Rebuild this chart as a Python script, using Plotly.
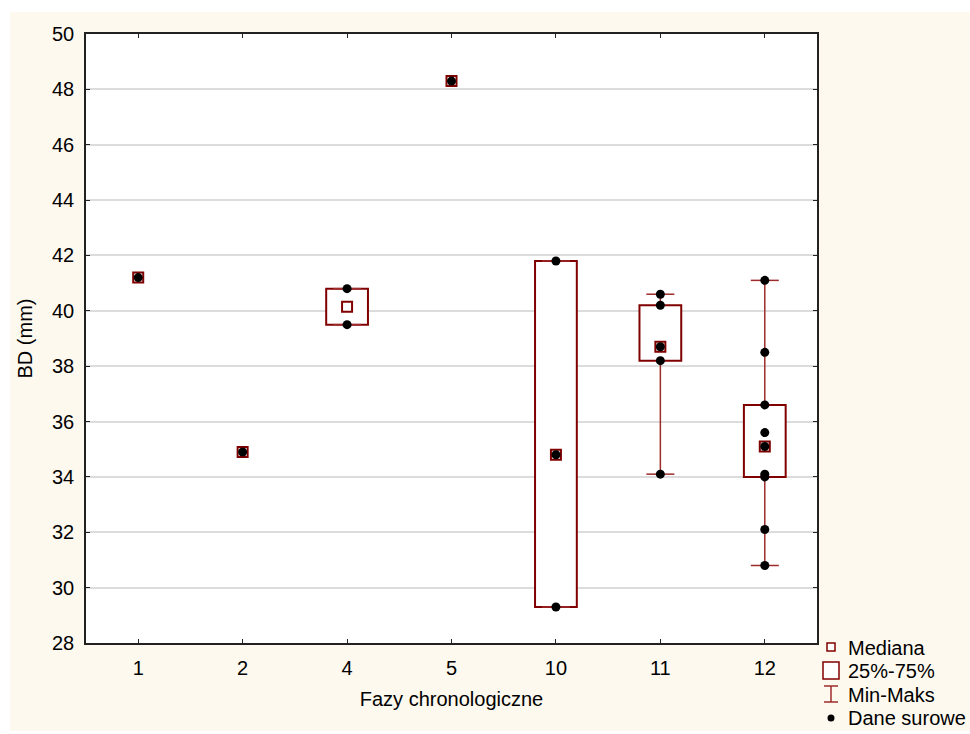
import plotly.graph_objects as go

# Chronological phases and BD measurements (mm)
phases = ["1", "2", "4", "5", "10", "11", "12"]
raw_values = [
    [41.2],
    [34.9],
    [40.8, 39.5],
    [48.3],
    [41.8, 34.8, 29.3],
    [40.6, 40.2, 38.7, 38.2, 34.1],
    [41.1, 38.5, 36.6, 35.6, 35.1, 34.1, 34.0, 32.1, 30.8],
]

# Summary statistics per phase
minimum = [41.2, 34.9, 39.5, 48.3, 29.3, 34.1, 30.8]
q1 = [41.2, 34.9, 39.5, 48.3, 29.3, 38.2, 34.0]
median = [41.2, 34.9, 40.15, 48.3, 34.8, 38.7, 35.1]
q3 = [41.2, 34.9, 40.8, 48.3, 41.8, 40.2, 36.6]
maximum = [41.2, 34.9, 40.8, 48.3, 41.8, 40.6, 41.1]

legend_labels = ["Mediana", "25%-75%", "Min-Maks", "Dane surowe"]

BOX_RED = "#800000"
WHISKER_RED = "#9e2b2b"
CREAM = "#fdf9ef"
FONT = "Liberation Sans, Arial, sans-serif"
FS = 20

W, H = 970, 734
L, R, T, B = 86, 153, 34, 91
PW, PH = W - L - R, H - T - B


def px_x(px):
    return (px - L) / PW


def px_y(py):
    return (H - B - py) / PH


fig = go.Figure()

# interquartile boxes (only where there is spread)
bx, bbase, bh = [], [], []
for p, lo, hi in zip(phases, q1, q3):
    if hi > lo:
        bx.append(p)
        bbase.append(lo)
        bh.append(hi - lo)
fig.add_trace(go.Bar(
    x=bx, y=bh, base=bbase, width=0.4,
    marker=dict(color="white", line=dict(color=BOX_RED, width=2)),
    hoverinfo="skip", showlegend=False,
))

# whiskers from box edges to min / max
wx, wy, cx, cy = [], [], [], []
for p, mn, a, b, mx in zip(phases, minimum, q1, q3, maximum):
    if mx > mn:
        wx += [p, p, None, p, p, None]
        wy += [a, mn, None, b, mx, None]
        cx += [p, p]
        cy += [mn, mx]
fig.add_trace(go.Scatter(
    x=wx, y=wy, mode="lines",
    line=dict(color=WHISKER_RED, width=1.5),
    hoverinfo="skip", showlegend=False,
))
fig.add_trace(go.Scatter(
    x=cx, y=cy, mode="markers",
    marker=dict(symbol="line-ew", size=20, line=dict(color=WHISKER_RED, width=1.5)),
    hoverinfo="skip", showlegend=False,
))

# medians
fig.add_trace(go.Scatter(
    x=phases, y=median, mode="markers",
    marker=dict(symbol="square", size=10, color="white",
                line=dict(color=BOX_RED, width=2)),
    showlegend=False,
))

# raw data points
dx, dy = [], []
for p, vals in zip(phases, raw_values):
    dx += [p] * len(vals)
    dy += vals
fig.add_trace(go.Scatter(
    x=dx, y=dy, mode="markers",
    marker=dict(symbol="circle", size=9, color="black"),
    showlegend=False,
))

shapes = [
    # cream page background and white plot panel
    dict(type="rect", xref="paper", yref="paper", layer="below",
         x0=px_x(10), x1=px_x(W), y0=px_y(731), y1=px_y(12),
         fillcolor=CREAM, line=dict(width=0)),
    dict(type="rect", xref="paper", yref="paper", layer="below",
         x0=0, x1=1, y0=0, y1=1, fillcolor="white", line=dict(width=0)),
    # legend symbols
    dict(type="rect", xref="paper", yref="paper",
         x0=px_x(827), x1=px_x(835), y0=px_y(651), y1=px_y(643),
         fillcolor="white", line=dict(color=BOX_RED, width=1.5)),
    dict(type="rect", xref="paper", yref="paper",
         x0=px_x(823), x1=px_x(839), y0=px_y(679), y1=px_y(662),
         fillcolor="white", line=dict(color=BOX_RED, width=1.5)),
    dict(type="line", xref="paper", yref="paper",
         x0=px_x(831), x1=px_x(831), y0=px_y(702), y1=px_y(686),
         line=dict(color=WHISKER_RED, width=1.5)),
    dict(type="line", xref="paper", yref="paper",
         x0=px_x(824), x1=px_x(838), y0=px_y(686), y1=px_y(686),
         line=dict(color=WHISKER_RED, width=1.5)),
    dict(type="line", xref="paper", yref="paper",
         x0=px_x(824), x1=px_x(838), y0=px_y(702), y1=px_y(702),
         line=dict(color=WHISKER_RED, width=1.5)),
    dict(type="circle", xref="paper", yref="paper",
         x0=px_x(827.5), x1=px_x(834.5), y0=px_y(721.5), y1=px_y(714.5),
         fillcolor="black", line=dict(color="black", width=0)),
]

annotations = []
for label, yc in zip(legend_labels, [648, 671, 695, 718]):
    annotations.append(dict(
        text=label, xref="paper", yref="paper", x=px_x(846), y=px_y(yc),
        xanchor="left", yanchor="middle", showarrow=False,
        font=dict(family=FONT, size=FS, color="black"),
    ))

fig.update_layout(
    width=W, height=H,
    margin=dict(l=L, r=R, t=T, b=B, autoexpand=False),
    paper_bgcolor="white", plot_bgcolor="rgba(0,0,0,0)",
    font=dict(family=FONT, size=FS, color="black"),
    shapes=shapes, annotations=annotations,
    showlegend=False, barmode="overlay",
)

fig.update_xaxes(
    type="category", categoryorder="array", categoryarray=phases,
    range=[-0.5, 6.5], showgrid=False, zeroline=False,
    showline=True, linecolor="#222222", linewidth=1.5, mirror="ticks",
    ticks="inside", ticklen=4, tickcolor="#222222", tickwidth=1,
    ticklabelstandoff=6,
    tickfont=dict(family=FONT, size=FS, color="black"),
    title=dict(text="Fazy chronologiczne", standoff=14,
               font=dict(family=FONT, size=FS, color="black")),
)
fig.update_yaxes(
    range=[28, 50], dtick=2, tick0=28,
    showgrid=True, gridcolor="#dcdcdc", gridwidth=1.5, zeroline=False,
    showline=True, linecolor="#222222", linewidth=1.5, mirror="ticks",
    ticks="inside", ticklen=4, tickcolor="#222222", tickwidth=1,
    ticklabelstandoff=6,
    tickfont=dict(family=FONT, size=FS, color="black"),
    title=dict(text="BD (mm)", standoff=14,
               font=dict(family=FONT, size=FS, color="black")),
)

fig.write_html("out.html")
